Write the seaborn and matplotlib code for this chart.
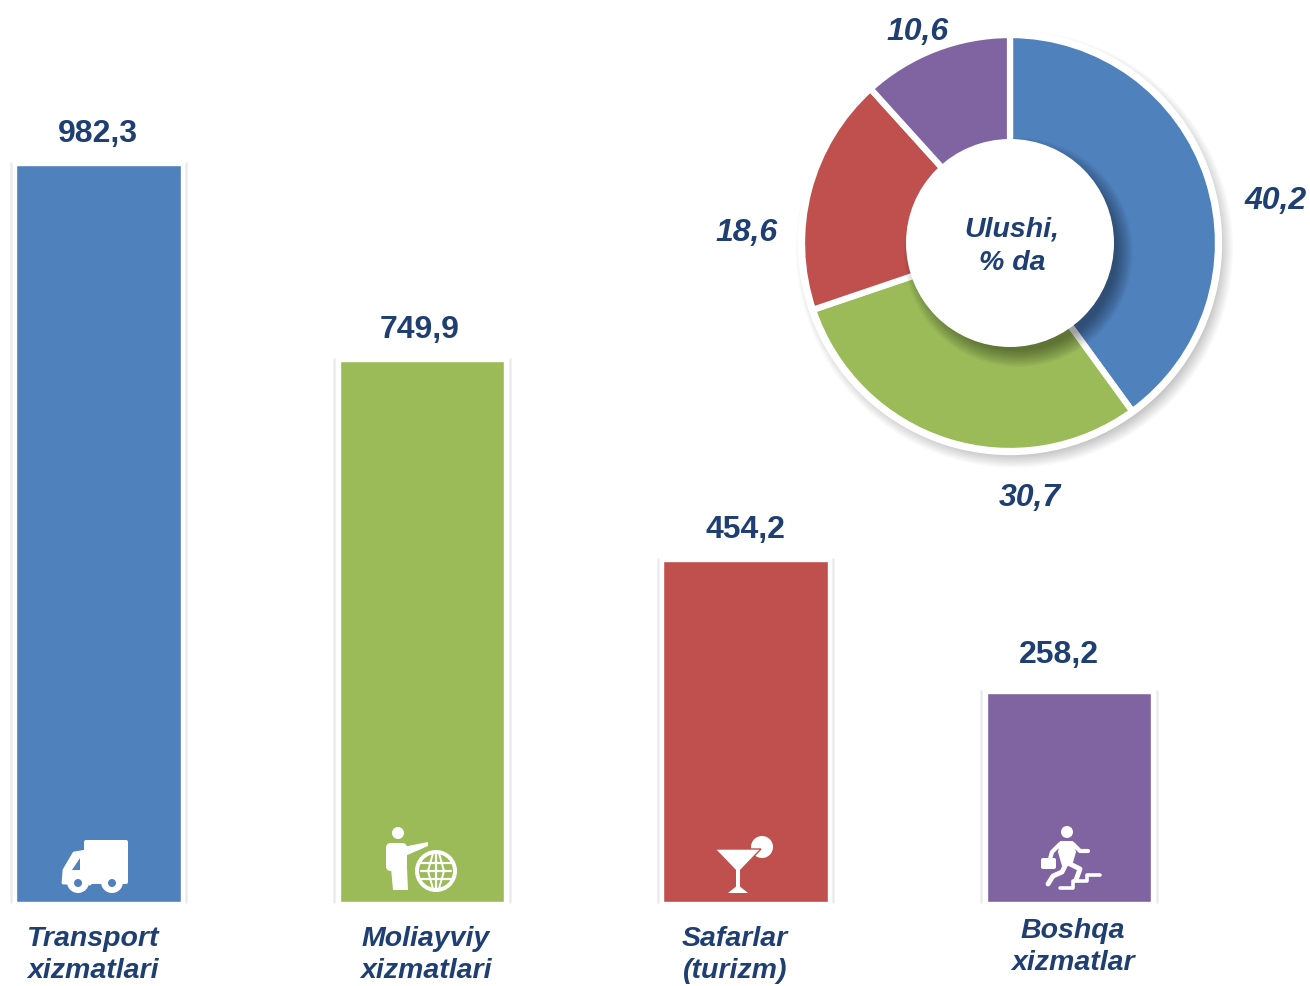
import seaborn as sns
import matplotlib
matplotlib.use('Agg')
import matplotlib.pyplot as plt
from matplotlib.patches import Circle, Polygon, Rectangle, FancyBboxPatch

categories = ['Transport\nxizmatlari', 'Moliayviy\nxizmatlari', 'Safarlar\n(turizm)', 'Boshqa\nxizmatlar']
bar_labels = ['982,3', '749,9', '454,2', '258,2']
# the bars in the picture are not quite to scale, so these are the drawn heights
bar_heights = [982.3, 721.0, 454.5, 278.6]
colors = ['#4F81BD', '#9BBB59', '#C0504D', '#8064A2']

# same for the slices: shares as drawn, labels as printed
pie_shares = [40.0, 29.8, 18.5, 11.7]
pie_labels = ['40,2', '30,7', '18,6', '10,6']

W, H = 1310, 986
navy = '#1F3F73'

sns.set_style('white')
plt.rcParams['font.family'] = ['Liberation Sans', 'DejaVu Sans']

fig = plt.figure(figsize=(W / 100, H / 100), dpi=100, facecolor='white')

# bars
base = 902
ax = fig.add_axes([0, (H - base) / H, 1, base / H])
sns.barplot(x=categories, y=bar_heights, hue=categories, palette=colors, width=0.51,
            dodge=False, legend=False, ax=ax, saturation=1, zorder=3)
ax.set_xlim(-98.5 / 323.5, (W - 98.5) / 323.5)
ax.set_ylim(0, base / 0.7503)
ax.axis('off')
for p in ax.patches[:4]:
    # faint grey line either side of each bar
    pad = 0.016
    for x in (p.get_x() - pad, p.get_x() + p.get_width() + pad):
        ax.plot([x, x], [0, p.get_height() + 3], color='#ECECEF', lw=1.8, zorder=2, clip_on=False)

# pixel overlay for labels and icons
ov = fig.add_axes([0, 0, 1, 1], zorder=5)
ov.set_xlim(0, W)
ov.set_ylim(H, 0)
ov.axis('off')
ov.patch.set_alpha(0)

# donut
cx, cy, r = 1010, 243, 208
pax = fig.add_axes([(cx - r) / W, (H - cy - r) / H, 2 * r / W, 2 * r / H], zorder=3)
for i in range(10):
    pax.add_patch(Circle((0.022, -0.03), 1.05 - i * 0.007, fc='black', alpha=0.022, lw=0, clip_on=False, zorder=0))
pax.add_patch(Circle((0, 0), 1.02, fc='white', lw=0, clip_on=False, zorder=0.5))
wedges, _ = pax.pie(pie_shares, colors=colors, startangle=90, counterclock=False, radius=1,
                    wedgeprops={'edgecolor': 'white', 'linewidth': 4.5, 'clip_on': False})
for w in wedges:
    w.set_zorder(1)
for i in range(12):
    pax.add_patch(Circle((0.04, -0.045), 0.55 - i * 0.007, fc='black', alpha=0.035, lw=0, clip_on=False, zorder=2))
pax.add_patch(Circle((0, 0), 0.5, fc='white', lw=0, clip_on=False, zorder=3))
pax.set_xlim(-1, 1)
pax.set_ylim(-1, 1)

# text
val_x = [98, 420, 745, 1059]
val_y = [134, 330, 530, 655]
for x, y, s in zip(val_x, val_y, bar_labels):
    ov.text(x, y, s, ha='center', va='center', fontsize=23, fontweight='bold', color=navy)

cat_x = [93, 426, 735, 1073]
cat_y = [955, 955, 955, 947]
for x, y, s in zip(cat_x, cat_y, categories):
    ov.text(x, y, s, ha='center', va='center', fontsize=20.5, fontweight='bold', style='italic',
            color=navy, linespacing=1.3)

pie_x = [1276, 1030, 747, 918]
pie_y = [201, 498, 233, 32]
for x, y, s in zip(pie_x, pie_y, pie_labels):
    ov.text(x, y, s, ha='center', va='center', fontsize=23, fontweight='bold', style='italic', color=navy)
ov.text(1012, 246, 'Ulushi,\n% da', ha='center', va='center', fontsize=20.5, fontweight='bold',
        style='italic', color=navy, linespacing=1.35)

# icons
# truck
ov.add_patch(FancyBboxPatch((84, 840), 44, 44, boxstyle='round,pad=0,rounding_size=2', fc='white', lw=0))
ov.add_patch(Polygon([[86, 851], [74, 853], [64, 870], [63, 883], [90, 884]], closed=True, fc='white', ec='white', lw=2, joinstyle='round'))
ov.add_patch(Polygon([[80, 858], [72, 870], [80, 870]], closed=True, fc=colors[0], lw=0))
for wx in (78, 112):
    ov.add_patch(Circle((wx, 882), 11, fc='white', lw=0))
    ov.add_patch(Circle((wx, 883), 4, fc=colors[0], lw=0))

# man and globe
g = colors[1]
ov.add_patch(Circle((398, 833), 6, fc='white', lw=0))
ov.add_patch(FancyBboxPatch((386, 843), 21, 28, boxstyle='round,pad=0,rounding_size=5', fc='white', lw=0))
ov.add_patch(Polygon([[391, 868], [407, 868], [408, 890], [393, 890]], closed=True, fc='white', lw=0))
ov.add_patch(Polygon([[403, 847], [428, 842], [428, 846], [405, 856]], closed=True, fc='white', lw=0))
ov.add_patch(Circle((436, 871), 21, fc='white', lw=0))
ov.add_patch(Circle((436, 871), 17, fc=g, lw=0))
for dy in (-8, 0, 8):
    ov.plot([421, 451], [871 + dy, 871 + dy], color='white', lw=1.6)
ov.plot([436, 436], [854, 888], color='white', lw=1.6)
for dx in (-8, 8):
    ov.plot([436 + dx * 0.4, 436 + dx, 436 + dx * 0.4], [854, 871, 888], color='white', lw=1.4)

# cocktail glass
ov.add_patch(Circle((762, 847), 11, fc='white', lw=0))
ov.add_patch(Polygon([[715, 849], [761, 849], [738, 873]], closed=True, fc='white', ec=colors[2], lw=1))
ov.add_patch(Rectangle((736, 870), 4, 20, fc='white', lw=0))
ov.add_patch(Polygon([[738, 885], [748, 893], [728, 893]], closed=True, fc='white', lw=0))

# man on stairs
ov.add_patch(Circle((1067, 832), 6, fc='white', lw=0))
ov.add_patch(Polygon([[1060, 841], [1073, 841], [1076, 852], [1072, 866], [1062, 866], [1058, 852]], closed=True, fc='white', lw=0))
ov.plot([1073, 1080, 1088], [844, 851, 851], color='white', lw=3, solid_capstyle='round')
ov.plot([1060, 1052, 1050], [844, 852, 859], color='white', lw=3, solid_capstyle='round')
ov.plot([1066, 1062, 1053, 1048], [864, 872, 876, 884], color='white', lw=3.5, solid_capstyle='round')
ov.plot([1070, 1080, 1076], [864, 869, 880], color='white', lw=3.5, solid_capstyle='round')
ov.add_patch(FancyBboxPatch((1041, 858), 15, 11, boxstyle='round,pad=0,rounding_size=2', fc='white', lw=0))
ov.plot([1060, 1073, 1073, 1087, 1087, 1100], [888, 888, 881, 881, 875, 875], color='white', lw=2.6)

fig.savefig('out.png', dpi=100, facecolor='white')
